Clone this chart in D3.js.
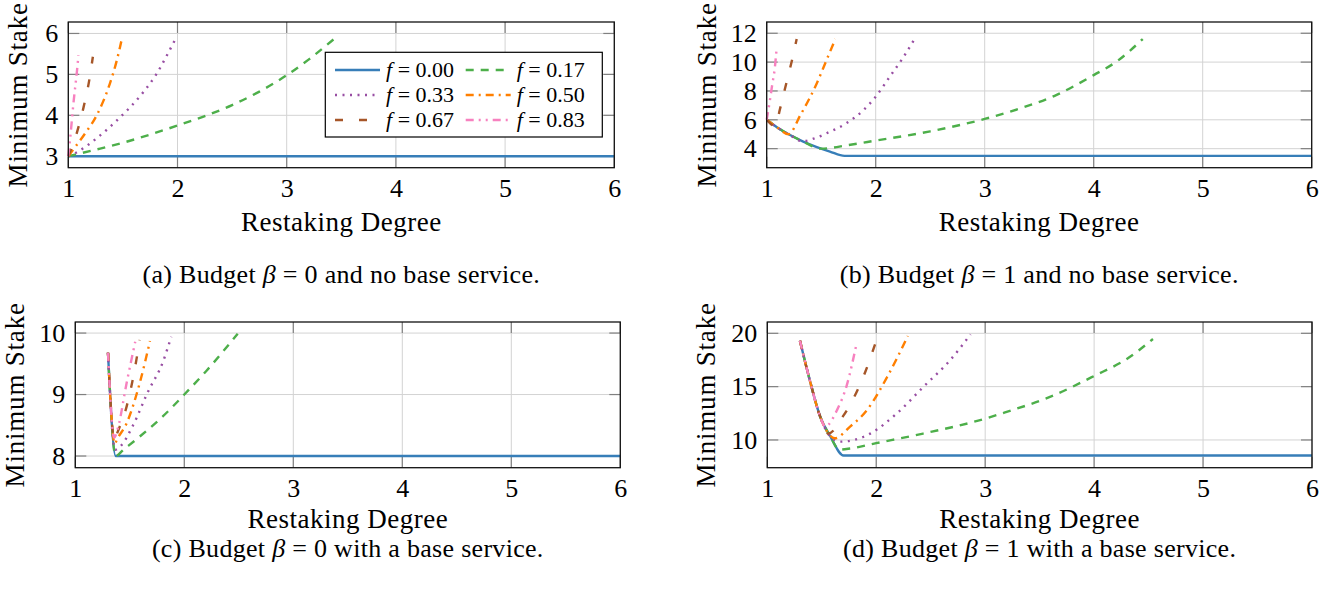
<!DOCTYPE html>
<html>
<head>
<meta charset="utf-8">
<script src="https://cdn.jsdelivr.net/npm/d3@7/dist/d3.min.js"></script>
<style>
  body { margin: 0; background: #fff; }
  text { font-family: "Liberation Serif", "DejaVu Serif", serif; fill: #000; }
</style>
</head>
<body>
<div id="chart"></div>
<script>
// ---- data ----
const xTicks = [1, 2, 3, 4, 5, 6];
const fLabels = ["0.00", "0.17", "0.33", "0.50", "0.67", "0.83"];

// panel (a): budget 0, no base service
const degreeA = [
  [1, 6],
  [1, 1.25, 1.5, 1.75, 2, 2.25, 2.5, 2.75, 3, 3.2, 3.44],
  [1, 1.08, 1.26, 1.47, 1.67, 1.81, 1.9, 1.98],
  [1, 1.07, 1.16, 1.26, 1.38, 1.44, 1.49],
  [1, 1.08, 1.14, 1.19, 1.225],
  [1, 1.015, 1.05, 1.08, 1.093]
];
const stakeA = [
  [3, 3],
  [3.0, 3.16, 3.33, 3.53, 3.75, 3.98, 4.25, 4.58, 4.98, 5.36, 5.88],
  [3.0, 3.1, 3.44, 3.94, 4.51, 5.02, 5.45, 5.86],
  [3.0, 3.25, 3.58, 4.0, 4.77, 5.3, 5.86],
  [3.0, 3.59, 4.2, 4.83, 5.43],
  [3.0, 3.38, 4.37, 5.1, 5.47]
];

// panel (b): budget 1, no base service
const degreeB = [
  [1, 1.1, 1.21, 1.33, 1.46, 1.58, 1.714, 6],
  [1, 1.1, 1.21, 1.33, 1.5, 1.75, 2, 2.5, 3, 3.33, 3.66, 4, 4.21, 4.45],
  [1, 1.1, 1.21, 1.33, 1.45, 1.55, 1.73, 1.89, 2.0, 2.13, 2.25, 2.37],
  [1, 1.1, 1.2, 1.31, 1.46, 1.55, 1.63],
  [1, 1.08, 1.12, 1.18, 1.24, 1.275],
  [1, 1.03, 1.05, 1.076, 1.09]
];
const stakeB = [
  [6, 5.45, 4.96, 4.51, 4.11, 3.8, 3.5, 3.5],
  [6, 5.45, 4.96, 4.51, 4.0, 4.25, 4.56, 5.2, 6.06, 6.8, 7.73, 9.1, 10.04, 11.6],
  [6, 5.45, 4.96, 4.51, 4.75, 5.07, 5.76, 6.69, 7.6, 9.0, 10.3, 11.78],
  [6, 5.45, 5.0, 6.34, 8.54, 10.16, 11.6],
  [6, 5.55, 6.69, 8.54, 10.39, 11.6],
  [6, 7.38, 8.4, 9.7, 10.85]
];

// panel (c): budget 0, with a base service
const degreeC = [
  [1.30, 1.37, 6],
  [1.30, 1.37, 1.44, 1.6, 1.8, 2.0, 2.2, 2.49],
  [1.30, 1.365, 1.41, 1.53, 1.66, 1.81, 1.88],
  [1.30, 1.362, 1.385, 1.47, 1.59, 1.685],
  [1.30, 1.36, 1.38, 1.47, 1.56, 1.59],
  [1.30, 1.357, 1.39, 1.47, 1.55]
];
const stakeC = [
  [9.68, 8.0, 8.0],
  [9.68, 8.0, 8.1, 8.33, 8.64, 9.0, 9.38, 9.99],
  [9.68, 8.1, 8.15, 8.5, 9.02, 9.56, 9.94],
  [9.68, 8.2, 8.28, 8.53, 9.18, 9.87],
  [9.68, 8.25, 8.35, 8.8, 9.56, 9.89],
  [9.68, 8.3, 8.45, 9.18, 9.86]
];

// panel (d): budget 1, with a base service
const degreeD = [
  [1.30, 1.39, 1.485, 1.58, 1.70, 6],
  [1.30, 1.39, 1.485, 1.58, 1.66, 1.76, 2.0, 2.43, 3.0, 3.175, 3.6, 4.0, 4.31, 4.54],
  [1.30, 1.39, 1.485, 1.58, 1.67, 1.945, 2.19, 2.435, 2.68, 2.865],
  [1.30, 1.39, 1.485, 1.62, 1.76, 1.915, 2.1, 2.29],
  [1.30, 1.39, 1.485, 1.56, 1.70, 1.82, 1.90, 1.99],
  [1.30, 1.39, 1.485, 1.53, 1.64, 1.73, 1.82]
];
const stakeD = [
  [19.3, 15.6, 12.2, 10.3, 8.55, 8.55],
  [19.3, 15.6, 12.2, 10.3, 9.1, 9.2, 9.7, 10.6, 12.0, 12.56, 14.06, 16.0, 17.66, 19.47],
  [19.3, 15.6, 12.2, 10.3, 9.84, 10.6, 12.5, 15.0, 17.5, 19.9],
  [19.3, 15.6, 12.2, 10.16, 11.25, 12.8, 15.9, 19.75],
  [19.3, 15.6, 12.2, 10.6, 12.3, 14.5, 16.4, 19.0],
  [19.3, 15.6, 12.2, 11.25, 12.8, 15.15, 19.06]
];

// ---- styles ----
const colors = ["#377eb8", "#4daf4a", "#984ea3", "#ff7f00", "#a65628", "#f781bf"];
const dashes = [null, "8 7", "2 5.5", "8 5 2 5", "8 16", "8 5 2 5 2 5"];

const panels = [
  { x0: 68.3, x1: 614.3, y0: 22, y1: 167.7, yDom: [2.72, 6.28], yTicks: [3, 4, 5, 6],
    xs: degreeA, ys: stakeA, ylabX: 27, caption: ["(a) Budget ", "β", " = 0 and no base service."], legend: true },
  { x0: 766.7, x1: 1311.7, y0: 22, y1: 167.7, yDom: [2.68, 12.78], yTicks: [4, 6, 8, 10, 12],
    xs: degreeB, ys: stakeB, ylabX: 716, caption: ["(b) Budget ", "β", " = 1 and no base service."] },
  { x0: 75.3, x1: 620.3, y0: 322, y1: 467.7, yDom: [7.81, 10.18], yTicks: [8, 9, 10],
    xs: degreeC, ys: stakeC, ylabX: 24, caption: ["(c) Budget ", "β", " = 0 with a base service."] },
  { x0: 767.3, x1: 1312, y0: 322, y1: 467.7, yDom: [7.4, 21.06], yTicks: [10, 15, 20],
    xs: degreeD, ys: stakeD, ylabX: 715, caption: ["(d) Budget ", "β", " = 1 with a base service."] }
];

const svg = d3.select("#chart").append("svg")
  .attr("width", 1341)
  .attr("height", 591);

panels.forEach((p) => {
  const x = d3.scaleLinear().domain([1, 6]).range([p.x0, p.x1]);
  const y = d3.scaleLinear().domain(p.yDom).range([p.y1, p.y0]);
  const g = svg.append("g");
  const top = p.y0 < 100;

  // grid
  g.selectAll(".vgrid").data(xTicks).join("line")
    .attr("x1", (d) => x(d)).attr("x2", (d) => x(d))
    .attr("y1", p.y0).attr("y2", p.y1)
    .attr("stroke", "#d3d3d3").attr("stroke-width", 1);
  g.selectAll(".hgrid").data(p.yTicks).join("line")
    .attr("x1", p.x0).attr("x2", p.x1)
    .attr("y1", (d) => y(d)).attr("y2", (d) => y(d))
    .attr("stroke", "#d3d3d3").attr("stroke-width", 1);

  // inner tick marks on all four sides
  const tl = 11;
  xTicks.forEach((t) => {
    g.append("line").attr("x1", x(t)).attr("x2", x(t)).attr("y1", p.y1).attr("y2", p.y1 - tl)
      .attr("stroke", "#808080").attr("stroke-width", 1.2);
    g.append("line").attr("x1", x(t)).attr("x2", x(t)).attr("y1", p.y0).attr("y2", p.y0 + tl)
      .attr("stroke", "#808080").attr("stroke-width", 1.2);
  });
  p.yTicks.forEach((t) => {
    g.append("line").attr("x1", p.x0).attr("x2", p.x0 + tl).attr("y1", y(t)).attr("y2", y(t))
      .attr("stroke", "#808080").attr("stroke-width", 1.2);
    g.append("line").attr("x1", p.x1).attr("x2", p.x1 - tl).attr("y1", y(t)).attr("y2", y(t))
      .attr("stroke", "#808080").attr("stroke-width", 1.2);
  });

  // series
  const line = d3.line().x((d) => x(d[0])).y((d) => y(d[1])).curve(d3.curveMonotoneX);
  p.xs.forEach((xs, i) => {
    const pts = xs.map((v, k) => [v, p.ys[i][k]]);
    g.append("path")
      .attr("d", line(pts))
      .attr("fill", "none")
      .attr("stroke", colors[i])
      .attr("stroke-width", 2.4)
      .attr("stroke-dasharray", dashes[i]);
  });

  // frame
  g.append("rect")
    .attr("x", p.x0).attr("y", p.y0)
    .attr("width", p.x1 - p.x0).attr("height", p.y1 - p.y0)
    .attr("fill", "none").attr("stroke", "#111").attr("stroke-width", 1.3);

  // tick labels
  g.append("g")
    .attr("transform", `translate(0,${p.y1})`)
    .call(d3.axisBottom(x).tickValues(xTicks).tickSize(0).tickPadding(11).tickFormat(d3.format("d")))
    .call((a) => a.select(".domain").remove())
    .selectAll("text")
    .style("font-family", "'Liberation Serif', serif")
    .style("font-size", "26px")
    .attr("fill", "#000");
  g.append("g")
    .attr("transform", `translate(${p.x0},0)`)
    .call(d3.axisLeft(y).tickValues(p.yTicks).tickSize(0).tickPadding(10).tickFormat(d3.format("d")))
    .call((a) => a.select(".domain").remove())
    .selectAll("text")
    .style("font-family", "'Liberation Serif', serif")
    .style("font-size", "26px")
    .attr("fill", "#000");

  // axis titles
  g.append("text")
    .attr("x", (p.x0 + p.x1) / 2)
    .attr("y", p.y1 + (top ? 63 : 60))
    .attr("text-anchor", "middle")
    .style("font-size", "27px")
    .style("letter-spacing", "0.5px")
    .text("Restaking Degree");
  g.append("text")
    .attr("transform", `translate(${p.ylabX},${(p.y0 + p.y1) / 2}) rotate(-90)`)
    .attr("text-anchor", "middle")
    .style("font-size", "27px")
    .style("letter-spacing", "0.8px")
    .text("Minimum Stake");

  // caption
  const cap = g.append("text")
    .attr("x", (p.x0 + p.x1) / 2)
    .attr("y", top ? 283 : 557)
    .attr("text-anchor", "middle")
    .style("font-size", "26px")
    .style("letter-spacing", "0.3px");
  cap.append("tspan").text(p.caption[0]);
  cap.append("tspan").style("font-style", "italic").text(p.caption[1]);
  cap.append("tspan").text(p.caption[2]);

  // legend
  if (p.legend) {
    const lg = g.append("g");
    lg.append("rect")
      .attr("x", 325.3).attr("y", 52.3).attr("width", 277).attr("height", 84.7)
      .attr("fill", "#fff").attr("stroke", "#000").attr("stroke-width", 1.2);
    fLabels.forEach((lab, i) => {
      const col = i % 2, row = Math.floor(i / 2);
      const lx = 335 + col * 130.7, ly = 70 + row * 25;
      lg.append("line")
        .attr("x1", lx).attr("x2", lx + 45).attr("y1", ly).attr("y2", ly)
        .attr("stroke", colors[i]).attr("stroke-width", 2.4)
        .attr("stroke-dasharray", dashes[i]);
      const t = lg.append("text")
        .attr("x", lx + 51).attr("y", ly + 7)
        .style("font-size", "22px");
      t.append("tspan").style("font-style", "italic").text("f");
      t.append("tspan").text(" = " + lab);
    });
  }
});
</script>
</body>
</html>
